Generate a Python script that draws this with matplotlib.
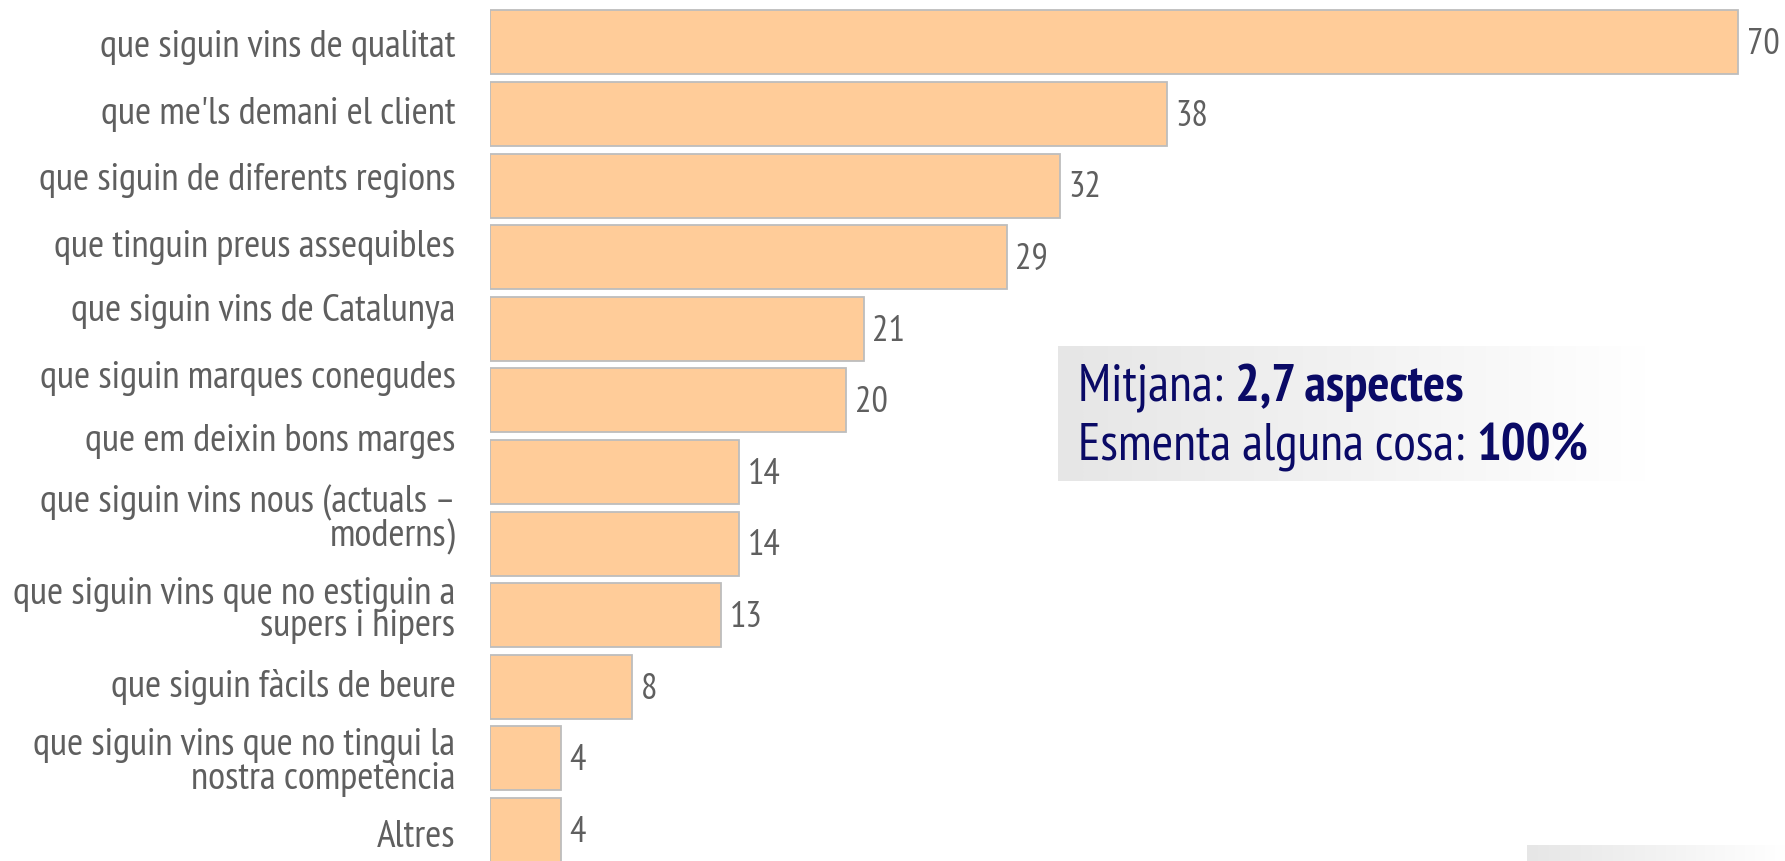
import os
import matplotlib
matplotlib.use("Agg")
import matplotlib.pyplot as plt
import matplotlib.font_manager as fm
import matplotlib.transforms as mtransforms
import numpy as np

categories = [
    "que siguin vins de qualitat",
    "que me'ls demani el client",
    "que siguin de diferents regions",
    "que tinguin preus assequibles",
    "que siguin vins de Catalunya",
    "que siguin marques conegudes",
    "que em deixin bons marges",
    "que siguin vins nous (actuals –\nmoderns)",
    "que siguin vins que no estiguin a\nsupers i hipers",
    "que siguin fàcils de beure",
    "que siguin vins que no tingui la\nnostra competència",
    "Altres",
]
values = [70, 38, 32, 29, 21, 20, 14, 14, 13, 8, 4, 4]

mean_label = "Mitjana: "
mean_value = "2,7 aspectes"
any_label = "Esmenta alguna cosa: "
any_value = "100%"

# ---- font selection: prefer a narrow / condensed sans face ----
groups = {}
for f in fm.fontManager.ttflist:
    key = (f.name + ' ' + os.path.basename(f.fname)).lower()
    narrow = ('narrow' in key or 'condensed' in key or
              str(f.stretch) in ('condensed', 'semi-condensed', 'extra-condensed', '500', '600'))
    if not narrow or 'mono' in key or ('serif' in key and 'sans' not in key):
        continue
    groups.setdefault((f.name, str(f.stretch)), []).append(f)

reg_prop = bold_prop = None
best = None
for k, fl in groups.items():
    regs = [f for f in fl if f.style == 'normal' and f.weight in (400, 'normal', 'regular')]
    bolds = [f for f in fl if f.style == 'normal' and f.weight in (700, 'bold')]
    if regs:
        score = (0 if 'narrow' in k[0].lower() else 1, 0 if bolds else 1)
        if best is None or score < best[0]:
            best = (score, regs[0], bolds[0] if bolds else regs[0])
if best is not None:
    reg_prop = fm.FontProperties(fname=best[1].fname)
    bold_prop = fm.FontProperties(fname=best[2].fname)
    if best[2] is best[1]:
        bold_prop.set_weight('bold')
else:
    reg_prop = fm.FontProperties(family=['Roboto', 'DejaVu Sans'])
    bold_prop = fm.FontProperties(family=['Roboto', 'DejaVu Sans'], weight='bold')

W, H = 1785, 862
fig = plt.figure(figsize=(W / 100, H / 100), dpi=100)
renderer = fig.canvas.get_renderer()

def fit_size(text, target_px, prop, max_size):
    t = fig.text(0, 0, text, fontproperties=prop, fontsize=max_size)
    w = t.get_window_extent(renderer).width
    t.remove()
    return min(max_size, max_size * target_px / w)

label_size = fit_size("que siguin vins que no estiguin a", 443, reg_prop, 34)
value_size = fit_size("38", 33, reg_prop, 34)
box_size = fit_size("Esmenta alguna cosa: 100%", 502, reg_prop, 42)

left_px = 489.5
px_per_unit = 17.84
pitch_px = 71.6
first_center_px = 43.4

ax = fig.add_axes([left_px / W, 0, 1 - left_px / W, 1])
ax.set_xlim(0, (W - left_px) / px_per_unit)
ax.set_ylim((H - first_center_px) / pitch_px, -first_center_px / pitch_px)
ax.axis('off')

y = np.arange(len(categories))
bars = ax.barh(y, values, height=0.894, color='#FFCC99', edgecolor='#BDBDBD', linewidth=1.3)

grey = '#5F5F5F'
for b, v in zip(bars, values):
    ax.annotate(str(v), xy=(b.get_width(), b.get_y() + b.get_height() / 2),
                xytext=(6, -1), textcoords='offset points', ha='left', va='center',
                fontproperties=reg_prop, fontsize=value_size, color=grey)

# category labels (vertical offsets in pixels relative to the bar centres, as laid out in the source)
label_offsets_px = [4, -1, -6, -11, -18, -23, -31, -25, -6, -1, 3, 7]
label_x = 455.5 / W
for yi, lab, off in zip(y, categories, label_offsets_px):
    tr = mtransforms.blended_transform_factory(fig.transFigure, ax.transData)
    tr = tr + mtransforms.ScaledTranslation(0, -off / 100, fig.dpi_scale_trans)
    fig.text(label_x, yi, lab, transform=tr, ha='right', va='center',
             fontproperties=reg_prop, fontsize=label_size, color=grey, linespacing=0.9)

# gradient backgrounds
ov = fig.add_axes([0, 0, 1, 1], zorder=-1)
grad = np.linspace(0, 1, 256)[None, :]
cmap = matplotlib.colors.LinearSegmentedColormap.from_list('g', ['#E6E6E6', '#F2F2F2', '#FFFFFF'])
ov.imshow(grad, extent=(1058, 1645, 482, 347), cmap=cmap, aspect='auto', interpolation='bicubic')
ov.imshow(grad, extent=(1527, 1785, 862, 846), cmap=cmap, aspect='auto', interpolation='bicubic')
ov.set_xlim(0, W)
ov.set_ylim(H, 0)
ov.axis('off')

navy = '#0A0A66'
def two_part(xp, yp, a, b):
    t1 = fig.text(xp / W, 1 - yp / H, a, ha='left', va='center',
                  fontproperties=reg_prop, fontsize=box_size, color=navy)
    bb = t1.get_window_extent(renderer)
    fig.text(bb.x1 / W, 1 - yp / H, b, ha='left', va='center',
             fontproperties=bold_prop, fontsize=box_size, color=navy)

two_part(1078, 388, mean_label, mean_value)
two_part(1078, 447, any_label, any_value)

fig.savefig('out.png', dpi=100)
